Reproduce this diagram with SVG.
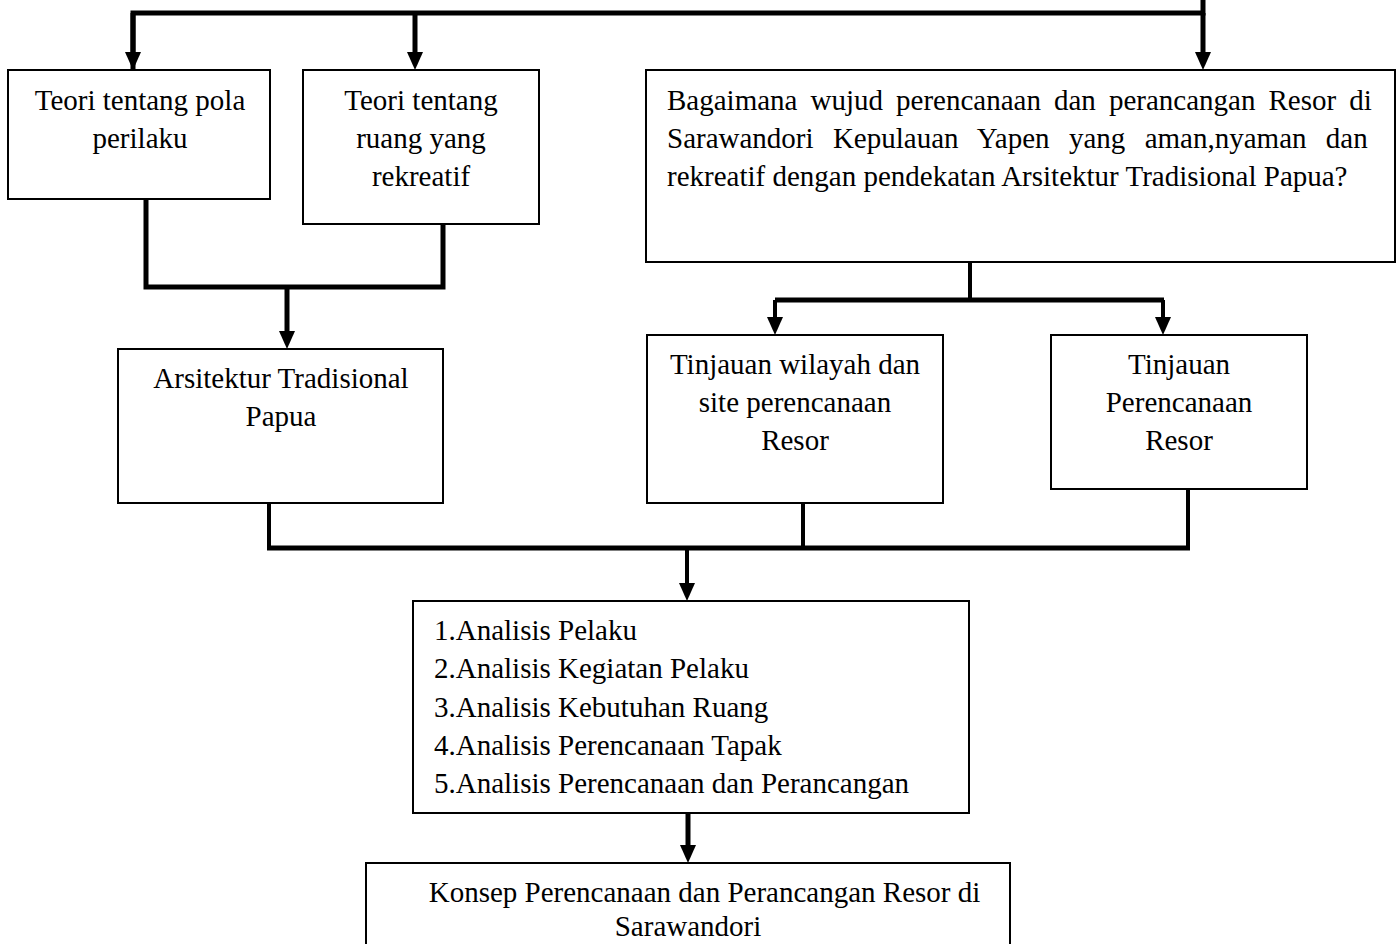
<svg xmlns="http://www.w3.org/2000/svg" width="1399" height="944" viewBox="0 0 1399 944">
<style>
.box{fill:#fff;stroke:#000;stroke-width:2}
.t{font-family:"Liberation Serif","Times New Roman",serif;font-size:29px;fill:#000}
.c{text-anchor:middle}
.ln{fill:none;stroke:#000;stroke-width:5;stroke-linecap:butt;stroke-linejoin:miter}
.ln4{fill:none;stroke:#000;stroke-width:4}
.ar{marker-end:url(#arr)}
</style>
<defs>
<marker id="arr" viewBox="0 0 18 16" refX="2" refY="8" markerWidth="18" markerHeight="16" markerUnits="userSpaceOnUse" orient="auto">
<path d="M0,0 L18,8 L0,16 z" fill="#000"/>
</marker>
</defs>
<rect width="1399" height="944" fill="#fff"/>
<g id="connectors">
<path class="ln" d="M133,70 V13 H1203 V0"/>
<path class="ln ar" d="M133,13 V54"/>
<path class="ln ar" d="M415,13 V54"/>
<path class="ln ar" d="M1203,13 V54"/>
<path class="ln" d="M146,199 V287 H443 V224"/>
<path class="ln ar" d="M287,287 V333"/>
<path class="ln4" d="M970,262 V300"/>
<path class="ln" d="M775,300 H1164"/>
<path class="ln4 ar" d="M775,300 V319"/>
<path class="ln4 ar" d="M1163,300 V319"/>
<path class="ln4" d="M269,503 V548"/>
<path class="ln4" d="M803,503 V548"/>
<path class="ln4" d="M1188,489 V548"/>
<path class="ln" d="M267,548 H1190"/>
<path class="ln4 ar" d="M687,548 V585"/>
<path class="ln ar" d="M688,813 V847"/>
</g>
<g id="n1">
<rect class="box" x="8" y="70" width="262" height="129"/>
<text class="t c" x="140" y="109.5">Teori tentang pola</text>
<text class="t c" x="140" y="147.5">perilaku</text>
</g>
<g id="n2">
<rect class="box" x="303" y="70" width="236" height="154"/>
<text class="t c" x="421" y="109.5">Teori tentang</text>
<text class="t c" x="421" y="147.5">ruang yang</text>
<text class="t c" x="421" y="185.5">rekreatif</text>
</g>
<g id="n3">
<rect class="box" x="646" y="70" width="749" height="192"/>
<text class="t" x="667" y="109.5" word-spacing="5.8">Bagaimana wujud perencanaan dan perancangan Resor di</text>
<text class="t" x="667" y="147.5" word-spacing="12.1">Sarawandori Kepulauan Yapen yang aman,nyaman dan</text>
<text class="t" x="667" y="185.5">rekreatif dengan pendekatan Arsitektur Tradisional Papua?</text>
</g>
<g id="n4">
<rect class="box" x="118" y="349" width="325" height="154"/>
<text class="t c" x="281" y="388">Arsitektur Tradisional</text>
<text class="t c" x="281" y="426">Papua</text>
</g>
<g id="n5">
<rect class="box" x="647" y="335" width="296" height="168"/>
<text class="t c" x="795" y="374">Tinjauan wilayah dan</text>
<text class="t c" x="795" y="412">site perencanaan</text>
<text class="t c" x="795" y="450">Resor</text>
</g>
<g id="n6">
<rect class="box" x="1051" y="335" width="256" height="154"/>
<text class="t c" x="1179" y="374">Tinjauan</text>
<text class="t c" x="1179" y="412">Perencanaan</text>
<text class="t c" x="1179" y="450">Resor</text>
</g>
<g id="n7">
<rect class="box" x="413" y="601" width="556" height="212"/>
<text class="t" x="434" y="640">1.Analisis Pelaku</text>
<text class="t" x="434" y="678">2.Analisis Kegiatan Pelaku</text>
<text class="t" x="434" y="716.5">3.Analisis Kebutuhan Ruang</text>
<text class="t" x="434" y="755">4.Analisis Perencanaan Tapak</text>
<text class="t" x="434" y="793">5.Analisis Perencanaan dan Perancangan</text>
</g>
<g id="n8">
<rect class="box" x="366" y="863" width="644" height="120"/>
<text class="t c" x="704.5" y="902">Konsep Perencanaan dan Perancangan Resor di</text>
<text class="t c" x="688" y="936">Sarawandori</text>
</g>
</svg>
